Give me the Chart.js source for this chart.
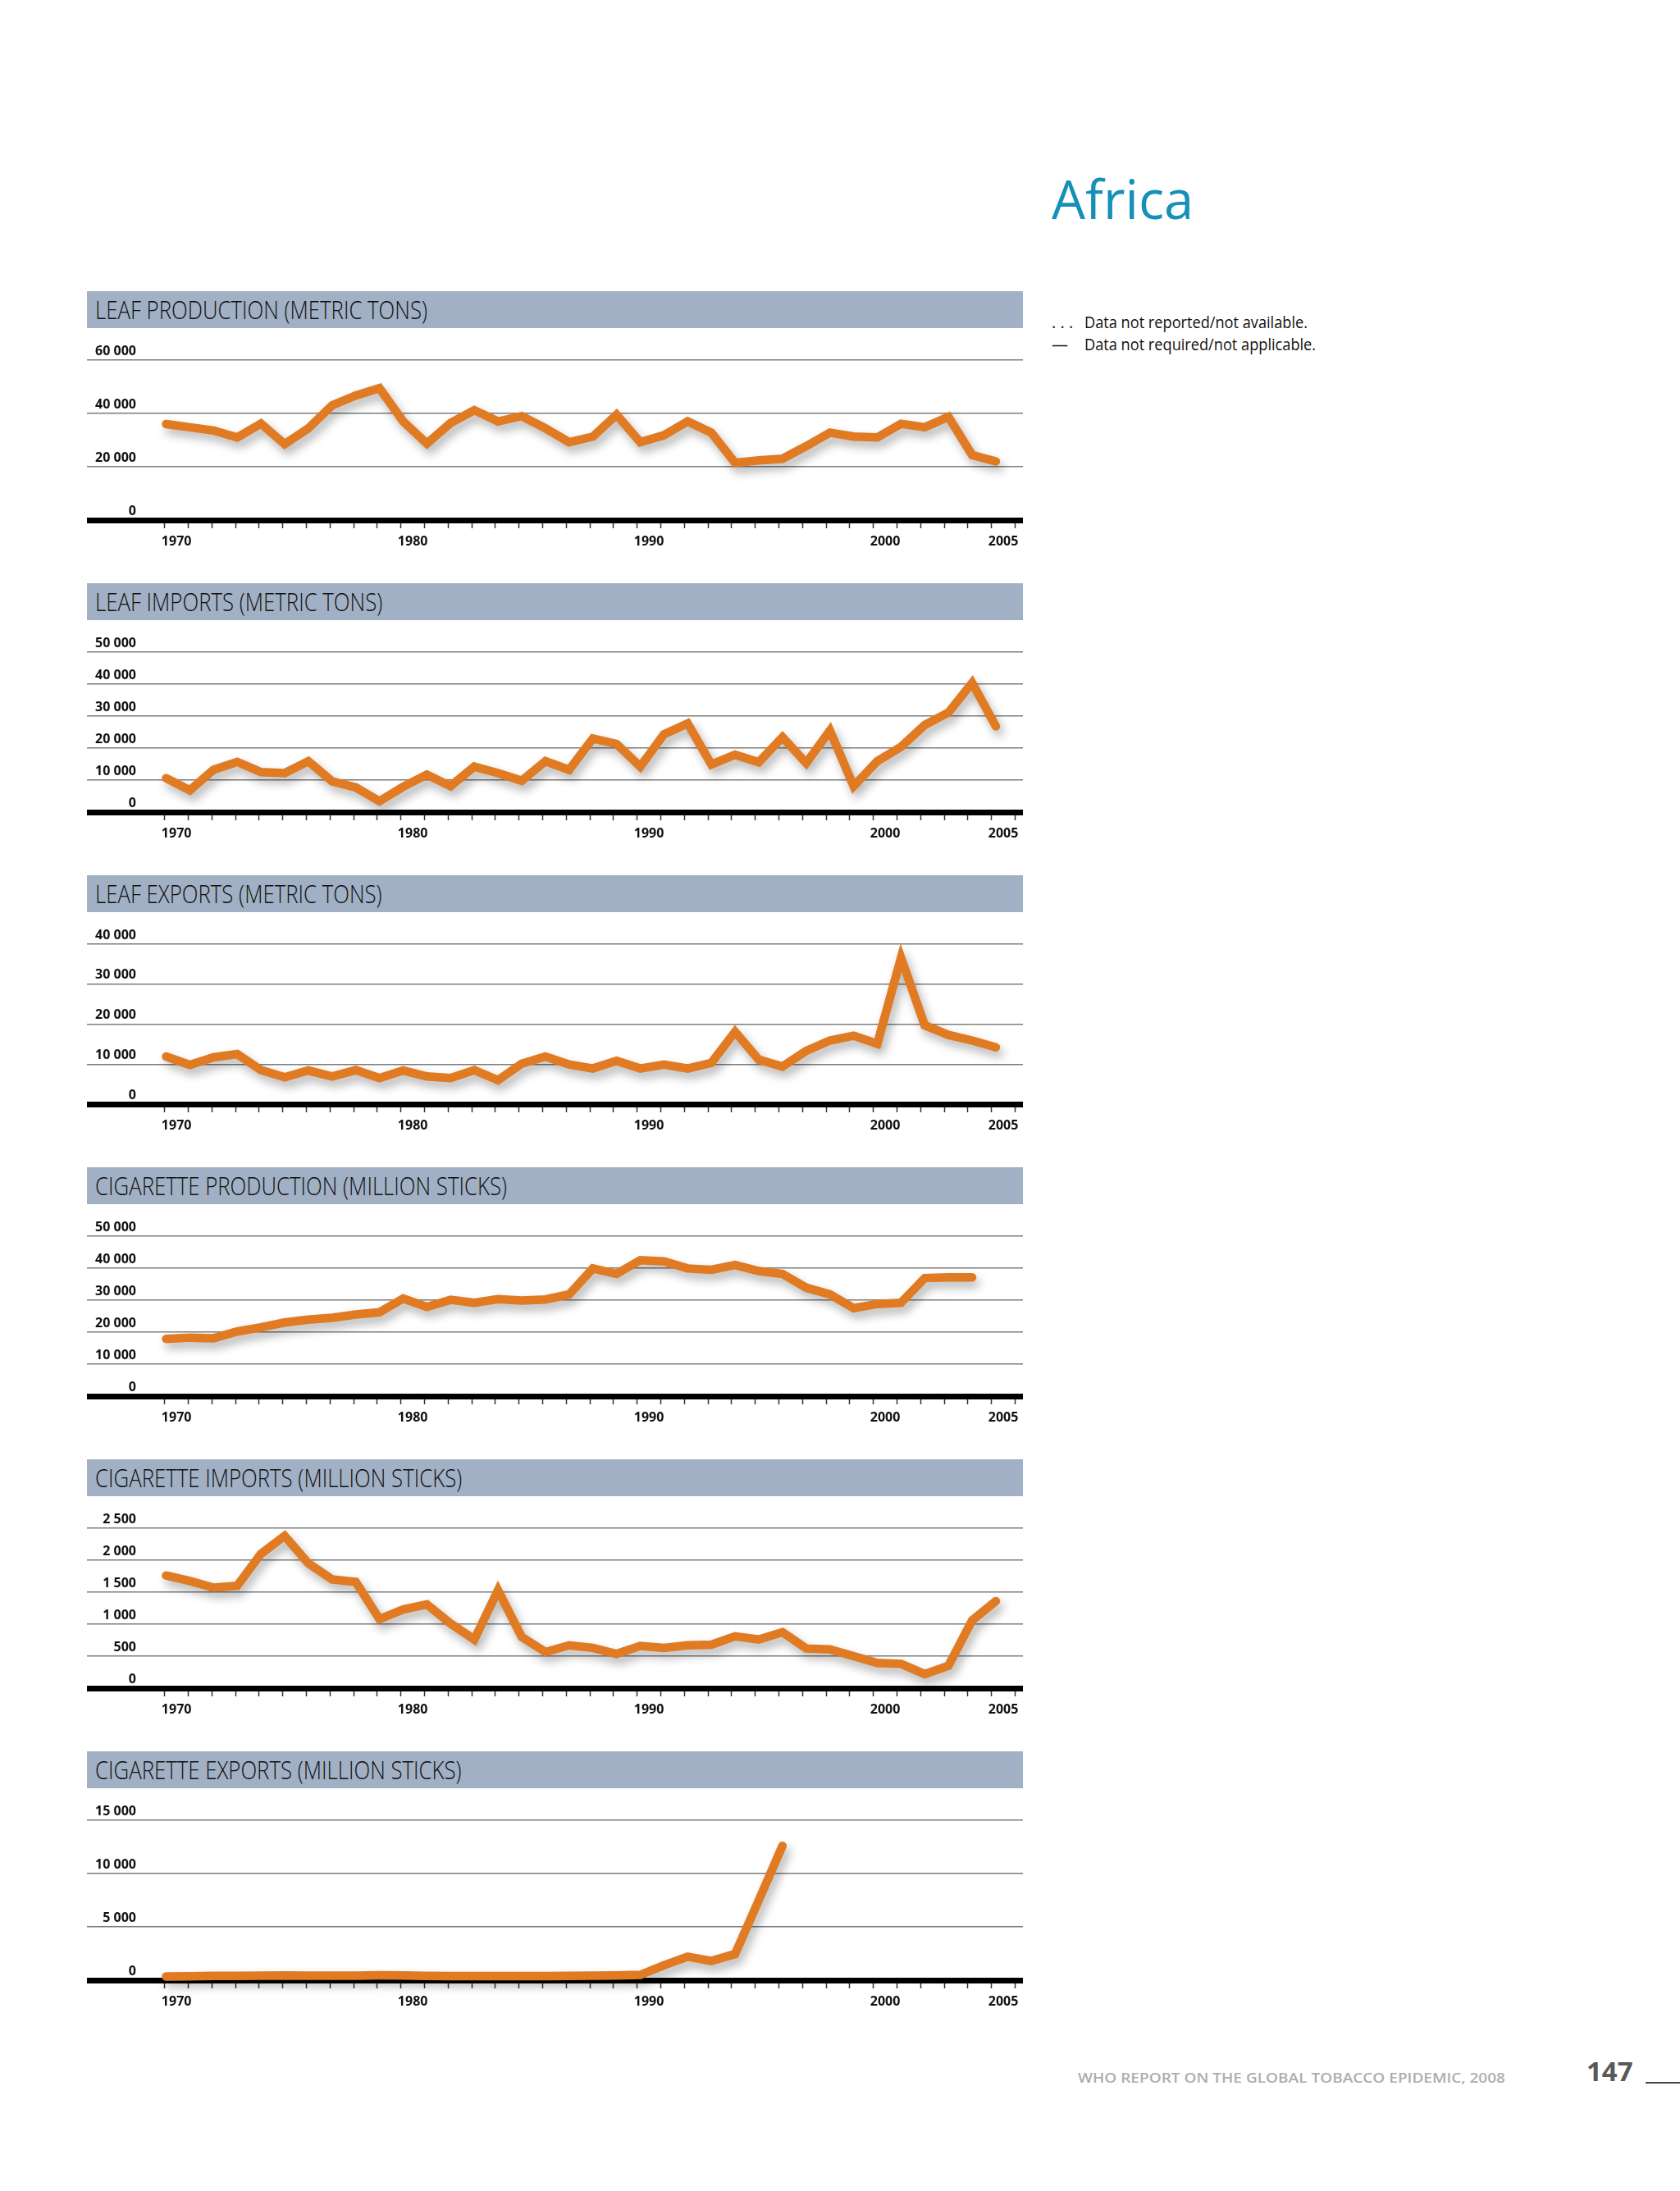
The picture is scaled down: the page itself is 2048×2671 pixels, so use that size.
<!DOCTYPE html>
<html>
<head>
<meta charset="utf-8">
<script src="https://cdn.jsdelivr.net/npm/chart.js@4.4.1/dist/chart.umd.min.js"></script>
<style>
  html, body { margin: 0; padding: 0; background: #ffffff; }
  body { position: relative; width: 2048px; height: 2671px; overflow: hidden; font-family: "Open Sans", sans-serif; }
  .region { position: absolute; left: 1282px; top: 210px; font-size: 65px; line-height: 1; color: #1590b8; }
  .notes { position: absolute; left: 1282px; top: 379px; font-size: 20px; line-height: 27px; color: #111; }
  .notes .mark { display: inline-block; width: 40px; }
  .fit { display: inline-block; white-space: nowrap; transform-origin: left center; }
  .band { position: absolute; left: 106px; width: 1141px; height: 45px; background: #a1b0c4; }
  .band .fit { position: absolute; left: 10px; top: 0; line-height: 45px; font-size: 31px; font-weight: 300; color: #111; }
  .plot { position: absolute; left: 106px; }
  .footer { position: absolute; left: 1314px; top: 2524px; font-size: 17px; line-height: 1; font-weight: 600; color: #adadad; }
  .page { position: absolute; left: 1934px; top: 2508px; font-size: 33px; line-height: 1; font-weight: 700; color: #58595b; }
  .rule { position: absolute; left: 2006px; top: 2538px; width: 42px; height: 2px; background: #444; }
</style>
</head>
<body>
<div class="region">Africa</div>
<div class="notes">
  <div><span class="mark">. . .</span><span class="fit note">Data not reported/not available.</span></div>
  <div><span class="mark">—</span><span class="fit note">Data not required/not applicable.</span></div>
</div>
<div class="footer"><span class="fit" id="footText">WHO REPORT ON THE GLOBAL TOBACCO EPIDEMIC, 2008</span></div>
<div class="page">147</div>
<div class="rule"></div>

<script>
// ---------- data ----------
const years = [1970, 1971, 1972, 1973, 1974, 1975, 1976, 1977, 1978, 1979,
               1980, 1981, 1982, 1983, 1984, 1985, 1986, 1987, 1988, 1989,
               1990, 1991, 1992, 1993, 1994, 1995, 1996, 1997, 1998, 1999,
               2000, 2001, 2002, 2003, 2004, 2005];
const tickYears = years.concat([2006]);
const yearLabels = [1970, 1980, 1990, 2000, 2005];

const titles = [
    'LEAF PRODUCTION (METRIC TONS)',
    'LEAF IMPORTS (METRIC TONS)',
    'LEAF EXPORTS (METRIC TONS)',
    'CIGARETTE PRODUCTION (MILLION STICKS)',
    'CIGARETTE IMPORTS (MILLION STICKS)',
    'CIGARETTE EXPORTS (MILLION STICKS)'
];

const leafProduction = [36000, 34800, 33600, 31000, 36200, 28500, 34400, 43000, 46700, 49500,
                        37000, 28700, 36400, 41200, 37000, 39000, 34400, 29200, 31300, 39500,
                        29200, 31800, 37000, 32800, 21500, 22400, 23000, 27700, 32800, 31300,
                        31000, 36100, 34800, 38700, 24400, 22000];
const leafImports = [10600, 6800, 13200, 15700, 12500, 12200, 15900, 9600, 7700, 3400,
                     7900, 11700, 8100, 14200, 12200, 9800, 15900, 13200, 23000, 21300,
                     14200, 24300, 27700, 14900, 17900, 15600, 23400, 15300, 25500, 8100,
                     15900, 20400, 27200, 31100, 40400, 26800];
const leafExports = [11900, 9800, 11700, 12500, 8500, 6700, 8400, 6900, 8500, 6500,
                     8400, 6900, 6500, 8500, 6000, 10100, 11900, 9900, 8900, 10800,
                     8900, 9900, 8900, 10300, 18100, 11100, 9400, 13300, 15900, 17100,
                     15100, 36600, 19700, 17300, 15900, 14200];
const cigProduction = [17900, 18300, 18100, 20200, 21500, 23000, 23900, 24500, 25500, 26200,
                       30500, 27900, 30100, 29200, 30300, 29900, 30200, 31800, 39900, 38200,
                       42500, 42100, 39900, 39500, 41000, 39100, 38200, 33900, 31800, 27500,
                       28800, 29200, 36900, 37100, 37100, null];
const cigImports = [1760, 1675, 1570, 1600, 2100, 2380, 1950, 1700, 1660, 1080,
                    1230, 1310, 1010, 760, 1530, 800, 565, 670, 630, 535,
                    660, 630, 670, 680, 810, 760, 875, 620, 605, 500,
                    395, 380, 220, 350, 1060, 1360];
const cigExports = [350, 360, 400, 400, 420, 450, 420, 420, 430, 460,
                    450, 400, 380, 380, 380, 380, 380, 400, 420, 450,
                    500, 1400, 2200, 1800, 2450, 7500, 12600, null, null, null,
                    null, null, null, null, null, null];

const seriesList = [leafProduction, leafImports, leafExports, cigProduction, cigImports, cigExports];
const yMaxes = [60000, 50000, 40000, 50000, 2500, 15000];
const ySteps = [20000, 10000, 10000, 10000, 500, 5000];

// ---------- layout / style ----------
const AXIS_Y0 = 634;        // page y of the first chart's baseline
const STRIDE = 356;         // distance between stacked charts
const PLOT_W = 1141;
const PLOT_H = 266;
const PAD_TOP = 30;
const X_AXIS_H = 41;
const LABEL_RIGHT = 60;     // right edge of y labels, inside the plot
const LINE_COLOR = '#e07b24';
const TICK_FONT = { family: '"Open Sans", sans-serif', size: 16, weight: 'bold' };

const fmt = v => String(v).replace(/\B(?=(\d{3})+(?!\d))/g, ' ');

const measure = document.createElement('canvas').getContext('2d');
measure.font = 'bold 16px "Open Sans", sans-serif';

const lineShadow = {
    id: 'lineShadow',
    beforeDatasetDraw(chart) {
        const ctx = chart.ctx;
        ctx.save();
        ctx.shadowColor = 'rgba(0, 0, 0, 0.3)';
        ctx.shadowBlur = 12;
        ctx.shadowOffsetX = 4;
        ctx.shadowOffsetY = 7;
    },
    afterDatasetDraw(chart) {
        chart.ctx.restore();
    }
};

function makeChart(canvas, series, yMax, yStep) {
    const labels = [];
    for (let v = 0; v <= yMax; v += yStep) labels.push(fmt(v));
    const widest = Math.max(...labels.map(t => measure.measureText(t).width));

    return new Chart(canvas, {
        type: 'line',
        data: {
            datasets: [{
                data: years.map((yr, i) => ({ x: yr, y: series[i] })),
                xAxisID: 'xd',
                borderColor: LINE_COLOR,
                borderWidth: 10.5,
                borderJoinStyle: 'miter',
                borderCapStyle: 'round',
                pointRadius: 0,
                tension: 0,
                fill: false,
                clip: false
            }]
        },
        options: {
            responsive: false,
            animation: false,
            devicePixelRatio: 1,
            layout: { padding: { top: PAD_TOP, left: 0, right: 0, bottom: 0 } },
            plugins: { legend: { display: false }, tooltip: { enabled: false } },
            scales: {
                // the printed year ticks sit on a slightly tighter grid than the plotted line
                x: {
                    type: 'linear',
                    min: 1966.71,
                    max: 2006.33,
                    afterBuildTicks: s => { s.ticks = tickYears.map(v => ({ value: v })); },
                    afterFit: s => { s.height = X_AXIS_H; },
                    grid: { drawOnChartArea: false, drawTicks: true, tickLength: 10, tickColor: '#333', tickWidth: 1.5 },
                    border: { display: true, width: 7, color: '#000' },
                    ticks: {
                        autoSkip: false,
                        maxRotation: 0,
                        padding: 7,
                        labelOffset: 14.4,
                        color: '#111',
                        font: TICK_FONT,
                        callback: v => yearLabels.includes(v) ? String(v) : ''
                    }
                },
                xd: {
                    type: 'linear',
                    display: false,
                    min: 1966.661,
                    max: 2006.142
                },
                y: {
                    min: 0,
                    max: yMax,
                    afterFit: s => { s.width = 0; },
                    grid: { color: '#7d7d7d', lineWidth: 1.5, drawTicks: false },
                    border: { display: false },
                    ticks: {
                        stepSize: yStep,
                        mirror: true,
                        crossAlign: 'far',
                        padding: LABEL_RIGHT - widest,
                        labelOffset: -11,
                        color: '#111',
                        font: TICK_FONT,
                        callback: v => fmt(v)
                    }
                }
            }
        },
        plugins: [lineShadow]
    });
}

// ---------- build the six panels ----------
titles.forEach((title, i) => {
    const axisY = AXIS_Y0 + STRIDE * i;

    const band = document.createElement('div');
    band.className = 'band';
    band.style.top = (axisY - 279) + 'px';
    band.innerHTML = '<span class="fit title"></span>';
    band.firstChild.textContent = title;
    document.body.appendChild(band);

    const canvas = document.createElement('canvas');
    canvas.className = 'plot';
    canvas.width = PLOT_W;
    canvas.height = PLOT_H;
    canvas.style.top = (axisY - (PLOT_H - X_AXIS_H)) + 'px';
    document.body.appendChild(canvas);

    makeChart(canvas, seriesList[i], yMaxes[i], ySteps[i]);
});

// condensed lettering: squeeze each text group to the width it has in the print
function squeeze(els, firstWidth) {
    const k = firstWidth / els[0].getBoundingClientRect().width;
    els.forEach(el => { el.style.transform = 'scaleX(' + k + ')'; });
}
squeeze([...document.querySelectorAll('.title')], 405);
squeeze([...document.querySelectorAll('.note')], 272);
squeeze([document.getElementById('footText')], 521);
</script>
</body>
</html>
